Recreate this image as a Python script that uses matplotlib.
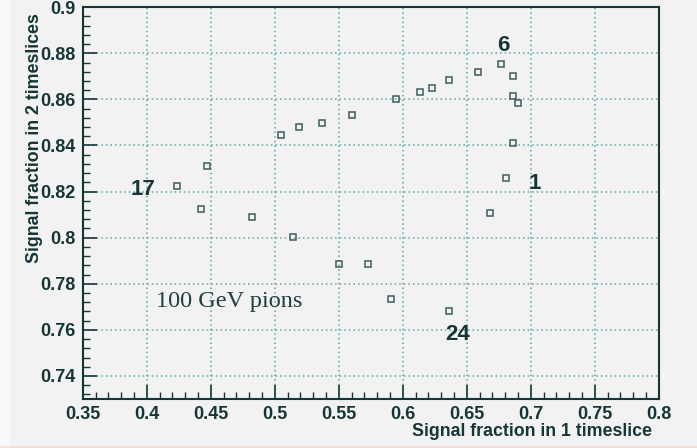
import numpy as np
import matplotlib
matplotlib.use("Agg")
import matplotlib.pyplot as plt
from matplotlib.ticker import MultipleLocator
from matplotlib.patches import Rectangle

# ─────────────────────────────────────────────
# DATA
# ─────────────────────────────────────────────
frac_1 = [0.424, 0.447, 0.442, 0.4825, 0.505, 0.519, 0.514, 0.537, 0.560,
          0.550, 0.573, 0.591, 0.595, 0.6135, 0.6227, 0.636, 0.636, 0.659,
          0.677, 0.686, 0.686, 0.690, 0.686, 0.681, 0.668]
frac_2 = [0.8226, 0.8311, 0.8125, 0.8090, 0.8447, 0.8482, 0.8005, 0.8499,
          0.8533, 0.7886, 0.7886, 0.7735, 0.8601, 0.8634, 0.8651, 0.8684,
          0.7683, 0.8719, 0.8755, 0.8703, 0.8616, 0.8585, 0.8411, 0.8261,
          0.8108]

label_text = ["17", "6", "1", "24"]
label_x    = [0.3974, 0.6786, 0.7034, 0.6430]
label_y    = [0.8207, 0.8833, 0.8236, 0.7579]

XLIM = (0.35, 0.8)
YLIM = (0.73, 0.9)

BG      = "#f2f2f2"
DARK    = "#163636"
GRIDC   = "#5fa5a5"
SANS    = ["Liberation Sans", "DejaVu Sans"]

# ─────────────────────────────────────────────
# PLOT
# ─────────────────────────────────────────────
fig = plt.figure(figsize=(6.97, 4.48), dpi=100, facecolor=BG)

# lighter strip on the left edge and a faint line at the bottom (scan border)
fig.patches.append(Rectangle((0, 0), 10 / 697, 1, transform=fig.transFigure,
                             facecolor="#f9f9f9", edgecolor="none", zorder=0))
fig.patches.append(Rectangle((0, 0), 1, 2 / 448, transform=fig.transFigure,
                             facecolor="#f6dede", edgecolor="none", zorder=0))

ax = fig.add_axes([0.1187, 0.1094, 0.8265, 0.8745])
ax.set_facecolor(BG)

ax.plot(frac_1, frac_2, linestyle="none", marker="s", markersize=4.2,
        markerfacecolor="none", markeredgecolor="#3d5c5c", markeredgewidth=1.1)

for t, x, y in zip(label_text, label_x, label_y):
    ax.text(x, y, t, ha="center", va="center", fontsize=16, fontweight="bold",
            color=DARK, family=SANS)

ax.text(0.4072, 0.7723, "100 GeV pions", ha="left", va="center", fontsize=17.5,
        color="#1f3f3f", family=["Liberation Serif", "DejaVu Serif"])

ax.set_xlim(*XLIM)
ax.set_ylim(*YLIM)
ax.xaxis.set_major_locator(MultipleLocator(0.05))
ax.xaxis.set_minor_locator(MultipleLocator(0.01))
ax.yaxis.set_major_locator(MultipleLocator(0.02))
ax.yaxis.set_minor_locator(MultipleLocator(0.004))
ax.xaxis.set_major_formatter(plt.FuncFormatter(lambda v, p: f"{v:g}"))
ax.yaxis.set_major_formatter(plt.FuncFormatter(lambda v, p: f"{v:g}"))

ax.tick_params(which="both", direction="in", color=DARK, top=False, right=False)
ax.tick_params(which="major", length=10, width=1.2, pad=5)
ax.tick_params(which="minor", length=5, width=1.0)
for lbl in ax.get_xticklabels() + ax.get_yticklabels():
    lbl.set_family(SANS)
    lbl.set_fontweight("bold")
    lbl.set_fontsize(13)
    lbl.set_color(DARK)

ax.grid(True, which="major", linestyle=(0, (1, 2)), color=GRIDC, linewidth=1.1)
for s in ax.spines.values():
    s.set_color(DARK)
    s.set_linewidth(1.5)

ax.set_xlabel("Signal fraction in 1 timeslice", fontsize=12.8, fontweight="bold",
              color=DARK, family=SANS, ha="right", va="center")
ax.xaxis.set_label_coords(0.988, -0.0835)
ax.set_ylabel("Signal fraction in 2 timeslices", fontsize=12.8, fontweight="bold",
              color=DARK, family=SANS, ha="right", va="center")
ax.yaxis.set_label_coords(-0.083, 0.985)

fig.savefig("out.png", dpi=100, facecolor=BG)
